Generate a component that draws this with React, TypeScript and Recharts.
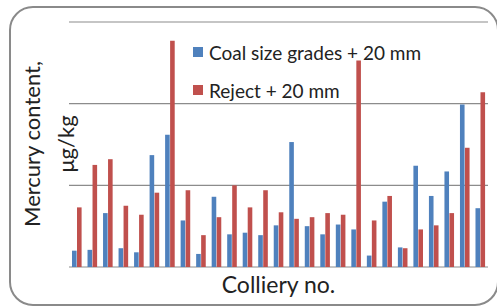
import { BarChart, Bar, XAxis, YAxis, CartesianGrid } from "recharts";

const collieries = [
  "1", "2", "3", "4", "5", "6", "7", "8", "9", "10", "11", "12", "13", "14",
  "15", "16", "17", "18", "19", "20", "21", "22", "23", "24", "25", "26", "27",
];
const coalSizeGrades = [
  20, 21, 66, 23, 18, 137, 162, 57, 16, 86, 40, 42, 39, 51,
  153, 50, 40, 52, 46, 14, 80, 24, 124, 87, 117, 199, 72,
];
const reject = [
  73, 125, 132, 75, 64, 91, 277, 94, 39, 61, 100, 73, 94, 67,
  59, 61, 66, 64, 253, 57, 87, 23, 46, 51, 66, 146, 214,
];
const yTicks = [0, 100, 200, 300];

const series = [
  { key: "coal", name: "Coal size grades + 20 mm", color: "#4F81BD" },
  { key: "reject", name: "Reject + 20 mm", color: "#C0504D" },
];

const data = collieries.map((c, i) => ({
  colliery: c,
  coal: coalSizeGrades[i],
  reject: reject[i],
}));

const FONT = "Lato, 'Noto Sans', sans-serif";

export default function App() {
  return (
    <div
      style={{
        position: "absolute",
        left: 0,
        top: 0,
        width: 497,
        height: 307,
        background: "#fff",
        overflow: "hidden",
      }}
    >
      <div
        style={{
          position: "absolute",
          left: 9,
          top: 6,
          width: 486,
          height: 296,
          border: "2px solid #8a8a8a",
          borderRadius: 24,
        }}
      />
      <BarChart
        width={497}
        height={307}
        data={data}
        margin={{ top: 22, left: 69, right: 9, bottom: 40 }}
        barSize={4.6}
        barGap={0.4}
      >
        <CartesianGrid vertical={false} stroke="#8c8c8c" strokeWidth={1.2} />
        <XAxis dataKey="colliery" hide />
        <YAxis hide domain={[0, 300]} ticks={yTicks} />
        {series.map((s) => (
          <Bar
            key={s.key}
            dataKey={s.key}
            name={s.name}
            fill={s.color}
            isAnimationActive={false}
          />
        ))}
      </BarChart>
      {/* legend */}
      <div
        style={{
          position: "absolute",
          left: 193,
          top: 33,
          fontFamily: FONT,
          fontSize: 19,
          color: "#222",
        }}
      >
        {series.map((s) => (
          <div
            key={s.key}
            style={{ display: "flex", alignItems: "center", height: 38 }}
          >
            <span
              style={{
                width: 10,
                height: 10,
                background: s.color,
                marginRight: 6,
                display: "inline-block",
              }}
            />
            {s.name}
          </div>
        ))}
      </div>
      <div
        style={{
          position: "absolute",
          left: 0,
          top: 270,
          width: 557,
          textAlign: "center",
          fontFamily: FONT,
          fontSize: 23,
          color: "#222",
        }}
      >
        Colliery no.
      </div>
      <div
        style={{
          position: "absolute",
          left: 49,
          top: 144,
          width: 240,
          transform: "translate(-50%, -50%) rotate(-90deg)",
          textAlign: "center",
          fontFamily: FONT,
          fontSize: 22,
          lineHeight: "34px",
          color: "#222",
        }}
      >
        Mercury content,
        <br />
        μg/kg
      </div>
    </div>
  );
}
